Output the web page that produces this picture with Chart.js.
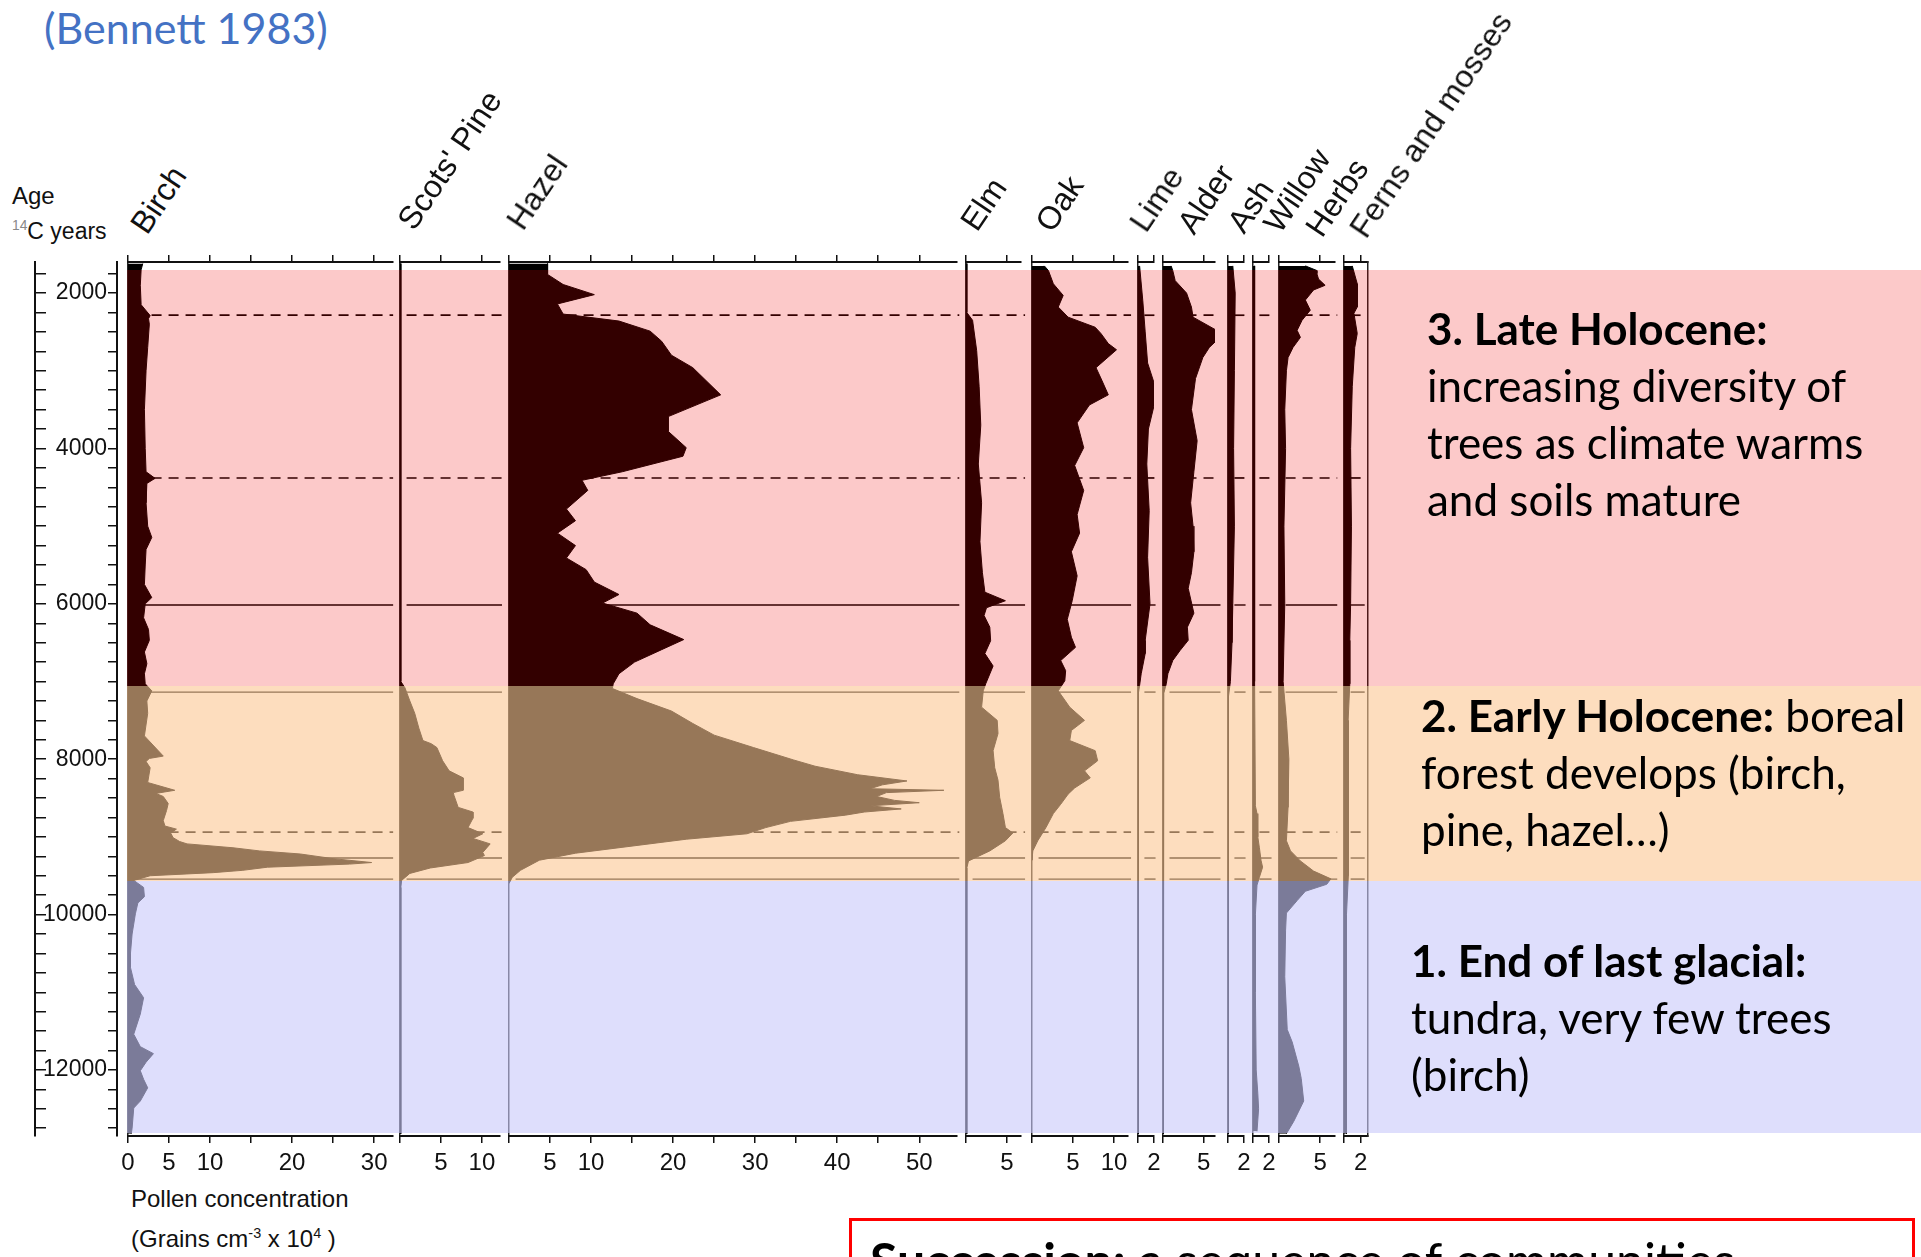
<!DOCTYPE html>
<html>
<head>
<meta charset="utf-8">
<script src="https://cdn.jsdelivr.net/npm/chart.js@4.4.1/dist/chart.umd.min.js"></script>
<style>
  html, body { margin: 0; padding: 0; background: #fff; }
  #page { position: relative; width: 1921px; height: 1257px; overflow: hidden; font-family: 'Liberation Sans', Arial, sans-serif; color: #111; }
  #page canvas { position: absolute; }
  .band { position: absolute; z-index: 5; }
  .abs { position: absolute; white-space: nowrap; }
  .taxon { position: absolute; white-space: nowrap; font-size: 32px; line-height: 32px; transform-origin: 0 27px; transform: rotate(-56deg); }
  .note { position: absolute; z-index: 10; font-family: Lato, sans-serif; font-size: 44px; line-height: 57px; color: #000; white-space: nowrap; }
  sup { font-size: 60%; line-height: 0; }
</style>
</head>
<body>
<div id="page">
  <div class="abs" style="left:44px; top:6px; font-family:Lato, sans-serif; font-size:43px; line-height:43px; color:#4472C4;">(Bennett 1983)</div>
  <div class="abs" style="left:12px; top:184px; font-size:24px; line-height:24px;">Age</div>
  <div class="abs" style="left:12px; top:220px; font-size:23px; line-height:23px;"><sup style="color:#888">14</sup>C years</div>
  <div class="abs" style="left:131px; top:1187px; font-size:24px; line-height:24px;">Pollen concentration</div>
  <div class="abs" style="left:131px; top:1227px; font-size:24px; line-height:24px;">(Grains cm<sup>-3</sup> x 10<sup>4</sup> )</div>

  <div class="note" style="left:1427px; top:300px;"><b>3. Late Holocene:</b><br>increasing diversity of<br>trees as climate warms<br>and soils mature</div>
  <div class="note" style="left:1421px; top:687px;"><b>2. Early Holocene:</b> boreal<br>forest develops (birch,<br>pine, hazel…)</div>
  <div class="note" style="left:1411px; top:932px;"><b>1. End of last glacial:</b><br>tundra, very few trees<br>(birch)</div>

  <div class="abs" style="left:849px; top:1218px; width:1060px; height:120px; border:3px solid #ff0000; z-index:10;"></div>
  <div class="abs" style="left:870px; top:1235px; font-family:Lato, sans-serif; font-size:50px; line-height:50px; color:#000; z-index:11;"><b>Succession:</b> a sequence of communities</div>
</div>
<script>
// Age axis (radiocarbon years BP)
const AGE_MIN = 1600;
const AGE_MAX = 12850;
const ageTickStep = 250;
const ageLabelStep = 2000;

// Taxa and their concentration axes (grains cm-3 x 10^4)
const taxa = ['Birch', "Scots' Pine", 'Hazel', 'Elm', 'Oak', 'Lime', 'Alder', 'Ash', 'Willow', 'Herbs', 'Ferns and mosses'];
const axisMax = [32.3, 12.2, 54.6, 6.7, 11.7, 2, 6.4, 2, 2, 6.8, 2.9];
const tickStep = [5, 5, 5, 5, 5, 2, 5, 2, 2, 5, 2];
const tickLabels = [[0, 5, 10, 20, 30], [5, 10], [5, 10, 20, 30, 40, 50], [5], [5, 10], [2], [5], [2], [2], [5], [2]];

const birchAge = [1620, 1700, 1900, 2150, 2290, 2330, 2400, 2700, 3000, 3500, 4000, 4300, 4385, 4450, 4700, 5000, 5145, 5300, 5500, 5750, 5920, 6000, 6180, 6330, 6470, 6620, 6770, 6900, 7030, 7120, 7250, 7410, 7700, 7960, 7990, 8030, 8110, 8300, 8400, 8440, 8480, 8570, 8660, 8790, 8860, 8900, 8950, 9010, 9060, 9090, 9140, 9180, 9220, 9280, 9330, 9350, 9390, 9430, 9460, 9500, 9560, 9650, 9770, 9850, 9990, 10250, 10500, 10680, 10900, 11070, 11280, 11540, 11700, 11790, 11900, 12010, 12120, 12230, 12400, 12490, 12750, 12820];
const birchVal = [1.8, 1.6, 1.5, 1.6, 2.7, 2.5, 2.6, 2.4, 2.2, 2.0, 2.1, 2.2, 3.3, 2.3, 2.2, 2.4, 2.9, 2.2, 2.1, 2.0, 2.9, 2.1, 1.9, 2.5, 2.6, 2.0, 2.3, 2.0, 2.1, 2.9, 2.3, 2.4, 2.0, 4.3, 2.6, 2.2, 2.7, 2.4, 5.7, 3.4, 4.3, 4.9, 4.7, 4.3, 4.5, 5.9, 5.2, 5.5, 6.3, 7.2, 12.8, 16, 21, 25, 29.7, 27, 17, 14, 10.4, 2.7, 0.7, 1.9, 2.0, 1.2, 0.9, 0.5, 0.3, 0.3, 0.8, 1.9, 1.5, 0.7, 1.5, 3.1, 2.2, 1.5, 1.9, 2.4, 1.5, 0.7, 0.5, 0.4];

const pineAge = [1620, 7000, 7080, 7250, 7410, 7600, 7760, 7800, 7850, 8020, 8150, 8240, 8400, 8430, 8470, 8620, 8680, 8760, 8880, 8960, 9020, 9090, 9200, 9240, 9330, 9400, 9470, 9560, 9650, 12820];
const pineVal = [0.1, 0.1, 0.6, 1.2, 1.8, 2.3, 2.8, 3.8, 4.5, 5.2, 6.0, 7.7, 7.7, 6.5, 6.6, 7.1, 8.9, 8.9, 8.3, 10.1, 8.9, 11.0, 10.1, 10.3, 8.3, 3.7, 1.2, 0.2, 0.1, 0.1];

const hazelAge = [1620, 1760, 1890, 2020, 2140, 2270, 2360, 2490, 2620, 2800, 2960, 3310, 3590, 3780, 3990, 4100, 4300, 4410, 4540, 4780, 4930, 5090, 5250, 5410, 5560, 5720, 5880, 5990, 6120, 6270, 6460, 6590, 6750, 6900, 7030, 7090, 7220, 7380, 7540, 7690, 7850, 8010, 8090, 8200, 8280, 8330, 8380, 8400, 8430, 8480, 8530, 8560, 8600, 8640, 8680, 8720, 8800, 8880, 8960, 9030, 9110, 9210, 9300, 9430, 9520, 9600];
const hazelVal = [4.7, 4.7, 6.6, 10.4, 5.9, 6.6, 13.4, 17.2, 18.6, 19.8, 22.4, 25.8, 19.4, 19.4, 21.6, 21.2, 13.8, 8.9, 9.6, 7.0, 8.1, 5.9, 8.1, 7.0, 9.4, 10.4, 13.4, 11.4, 15.6, 17.2, 21.3, 18.6, 15.3, 13.4, 12.7, 12.6, 15.6, 19.8, 22.4, 25, 29.8, 34.7, 37.3, 42.5, 48.5, 45.5, 44, 53, 46, 44.8, 47, 50, 44, 47.8, 43.3, 41, 34.3, 31.3, 29, 21.6, 15.6, 8.1, 3.7, 1.4, 0.4, 0];

const elmAge = [1620, 2250, 2350, 2740, 3200, 3700, 4200, 4700, 5200, 5600, 5850, 5960, 6050, 6150, 6300, 6475, 6640, 6800, 7030, 7120, 7330, 7500, 7670, 7890, 8110, 8270, 8490, 8700, 8880, 8950, 9050, 9180, 9310, 9400, 12820];
const elmVal = [0.1, 0.1, 0.8, 1.3, 1.6, 1.8, 1.5, 1.9, 1.7, 2.0, 2.3, 4.8, 2.5, 2.2, 2.9, 3.0, 2.3, 3.3, 2.4, 2.1, 1.9, 3.8, 3.9, 3.3, 3.5, 3.9, 4.1, 4.5, 4.8, 5.7, 4.8, 2.9, 0.3, 0.1, 0.1];

const oakAge = [1650, 1710, 1880, 2030, 2180, 2310, 2440, 2520, 2650, 2730, 2960, 3120, 3310, 3440, 3670, 3990, 4220, 4540, 4850, 5090, 5330, 5640, 5960, 6200, 6430, 6560, 6730, 6860, 6990, 7120, 7330, 7500, 7630, 7760, 7890, 8020, 8150, 8240, 8370, 8450, 8580, 8700, 8880, 9050, 9180, 9300];
const oakVal = [1.5, 2.0, 2.6, 3.8, 3.2, 4.4, 7.7, 8.4, 9.3, 10.3, 7.8, 8.5, 9.3, 7.0, 5.5, 6.3, 5.2, 6.3, 5.5, 5.8, 4.8, 5.5, 4.9, 4.3, 4.8, 5.3, 3.5, 4.1, 4.0, 3.2, 4.6, 6.4, 4.8, 4.6, 7.7, 8.0, 6.4, 7.1, 5.2, 4.4, 3.5, 2.6, 1.7, 0.7, 0.1, 0];

const limeAge = [1650, 2100, 2500, 2900, 3280, 3450, 3750, 4200, 4800, 5400, 6000, 6470, 6640, 6900, 7050, 7150, 12820];
const limeVal = [0.2, 0.6, 0.9, 1.2, 2.4, 2.0, 1.3, 1.1, 1.4, 1.2, 1.5, 0.9, 0.9, 0.4, 0.2, 0.05, 0.05];

const alderAge = [1650, 1710, 1840, 2000, 2180, 2310, 2480, 2570, 2700, 2830, 3100, 3500, 3900, 4300, 4700, 5000, 5330, 5600, 5800, 6120, 6300, 6470, 6600, 6730, 6900, 7030, 7150, 12820];
const alderVal = [1.0, 1.2, 1.5, 2.9, 3.5, 3.7, 6.6, 7.0, 5.7, 4.9, 4.0, 3.5, 4.2, 3.8, 3.4, 3.7, 3.8, 3.5, 3.1, 3.8, 3.0, 3.1, 2.1, 1.2, 0.6, 0.4, 0.1, 0.05];

const ashAge = [1650, 2000, 3000, 4000, 5000, 6000, 6500, 7000, 7200, 12820];
const ashVal = [0.6, 0.9, 0.8, 0.7, 0.8, 0.6, 0.5, 0.3, 0.05, 0.05];

const willowAge = [1650, 7000, 8600, 8700, 8800, 9000, 9140, 9300, 9390, 9520, 9620, 10000, 11000, 12000, 12300, 12500, 12790];
const willowVal = [0.2, 0.2, 0.3, 0.5, 0.6, 0.6, 0.8, 1.0, 1.2, 0.8, 0.5, 0.3, 0.3, 0.4, 0.6, 0.7, 0.5];

const herbsAge = [1650, 1710, 1750, 1820, 1900, 1960, 2090, 2220, 2350, 2480, 2570, 2700, 2830, 3000, 3500, 4000, 5000, 6000, 7000, 7500, 8000, 8620, 9050, 9180, 9310, 9440, 9540, 9610, 9700, 9820, 9980, 10200, 10800, 11480, 11640, 11950, 12110, 12400, 12660, 12820];
const herbsVal = [3.2, 4.6, 4.6, 4.8, 5.6, 4.2, 3.2, 3.8, 2.8, 2.2, 2.6, 1.7, 1.1, 0.9, 0.7, 0.8, 0.6, 0.7, 0.5, 0.9, 1.2, 1.1, 0.9, 1.4, 2.6, 4.2, 6.3, 5.8, 3.2, 2.2, 0.9, 0.8, 0.7, 1.0, 1.6, 2.4, 2.7, 3.0, 1.8, 0.9];

const fernsAge = [1650, 1880, 2180, 2260, 2520, 2700, 3200, 4000, 5000, 6000, 6470, 7030, 7500, 8000, 8500, 9000, 9500, 10000, 11000, 12000, 12820];
const fernsVal = [1.0, 1.6, 1.6, 1.2, 1.6, 1.3, 1.0, 0.8, 0.9, 0.8, 0.7, 0.7, 0.5, 0.6, 0.5, 0.5, 0.5, 0.3, 0.3, 0.3, 0.3];

const seriesAge = [birchAge, pineAge, hazelAge, elmAge, oakAge, limeAge, alderAge, ashAge, willowAge, herbsAge, fernsAge];
const seriesVal = [birchVal, pineVal, hazelVal, elmVal, oakVal, limeVal, alderVal, ashVal, willowVal, herbsVal, fernsVal];

// Zone boundaries drawn across the panels
const zoneLineAge = [2285, 4380, 6015, 7136, 8938, 9272, 9543];
const zoneLineDashed = [true, true, false, false, true, false, false];

// Coloured zones (late Holocene, early Holocene, end of last glacial)
const zoneBandAge = [1704, 7058, 9563, 12812];
const zoneBandColor = ['rgba(240,0,0,0.21)', 'rgba(252,199,146,0.6)', 'rgba(201,201,250,0.61)'];

// ---- layout ----
const INK = '#000';
const PX_PER_UNIT = 8.2;
const panelLeft = [128, 400, 509, 966, 1032, 1138, 1163, 1228, 1253, 1279, 1344];
const taxonLabelPos = [[147, 236], [414, 232], [523, 232], [977, 233], [1052, 234], [1146, 234], [1194, 236], [1244, 235], [1280, 235], [1322, 239], [1366, 240]];
const PLOT_TOP = 262, PLOT_BOTTOM = 1136;
const TOP_H = 12, BOTTOM_H = 50, PAD = 22;
const CANVAS_TOP = PLOT_TOP - TOP_H;
const CANVAS_H = TOP_H + (PLOT_BOTTOM - PLOT_TOP) + BOTTOM_H;

Chart.defaults.font.family = "'Liberation Sans', Arial, sans-serif";
Chart.defaults.color = '#111';

const page = document.getElementById('page');

function addCanvas(left, width) {
  const canvas = document.createElement('canvas');
  canvas.width = width;
  canvas.height = CANVAS_H;
  canvas.style.left = left + 'px';
  canvas.style.top = CANVAS_TOP + 'px';
  page.appendChild(canvas);
  return canvas;
}

const baseOptions = {
  responsive: false,
  animation: false,
  devicePixelRatio: 1,
  events: [],
  plugins: { legend: { display: false }, tooltip: { enabled: false } }
};

// ticks every 250 years, independent of the axis end points
function ageTicks(scale) {
  const ticks = [];
  for (let v = Math.ceil(AGE_MIN / ageTickStep) * ageTickStep; v <= AGE_MAX; v += ageTickStep) {
    ticks.push({ value: v });
  }
  scale.ticks = ticks;
}

function makePanel(i) {
  const plotW = Math.round(axisMax[i] * PX_PER_UNIT);
  const canvas = addCanvas(panelLeft[i] - PAD, plotW + 2 * PAD);
  const last = i === taxa.length - 1;
  const lineEnd = last ? axisMax[i] - 0.4 : (panelLeft[i + 1] - panelLeft[i] - 7) / PX_PER_UNIT;

  const points = seriesAge[i].map((a, k) => ({ x: seriesVal[i][k], y: a }));
  const datasets = [{
    data: points,
    fill: 'origin',
    backgroundColor: INK,
    borderColor: INK,
    borderWidth: 1,
    pointRadius: 0,
    tension: 0,
    order: 0
  }];
  zoneLineAge.forEach((age, k) => {
    datasets.push({
      data: [{ x: 0.8, y: age }, { x: lineEnd, y: age }],
      fill: false,
      borderColor: INK,
      borderWidth: zoneLineDashed[k] ? 1.7 : 1.4,
      borderDash: zoneLineDashed[k] ? [10, 7] : [],
      pointRadius: 0,
      clip: false,
      order: 1
    });
  });

  const xAxis = (position) => ({
    type: 'linear',
    position,
    min: 0,
    max: axisMax[i],
    ticks: {
      display: position === 'bottom',
      stepSize: tickStep[i],
      includeBounds: false,
      autoSkip: false,
      maxRotation: 0,
      padding: 6,
      font: { size: 24 },
      color: '#111',
      callback: v => tickLabels[i].includes(v) ? String(v) : ''
    },
    grid: {
      drawOnChartArea: position === 'bottom',
      color: ctx => (ctx.tick && ctx.tick.value === 0) ? '#222' : 'rgba(0,0,0,0)',
      tickColor: '#111',
      lineWidth: 1.5,
      tickLength: 7
    },
    border: { display: true, color: '#111', width: 2 },
    afterFit: s => {
      s.height = position === 'bottom' ? BOTTOM_H : TOP_H;
      s.paddingLeft = 0;
      s.paddingRight = 0;
    }
  });

  const scales = {
    y: { type: 'linear', min: AGE_MIN, max: AGE_MAX, reverse: true, display: false },
    x: xAxis('bottom'),
    xTop: xAxis('top')
  };
  if (last) {
    scales.yEdge = {
      type: 'linear', position: 'right', min: AGE_MIN, max: AGE_MAX, reverse: true,
      ticks: { display: false },
      grid: { drawOnChartArea: false, drawTicks: false },
      border: { display: true, color: '#222', width: 1.5 },
      afterFit: s => { s.width = 0; s.paddingTop = 0; s.paddingBottom = 0; }
    };
  }

  const chart = new Chart(canvas, {
    type: 'line',
    data: { datasets },
    options: Object.assign({}, baseOptions, {
      indexAxis: 'y',
      layout: { padding: { left: PAD, right: PAD, top: 0, bottom: 0 } },
      scales
    })
  });

  const label = document.createElement('div');
  label.className = 'taxon';
  label.textContent = taxa[i];
  label.style.left = taxonLabelPos[i][0] + 'px';
  label.style.top = (taxonLabelPos[i][1] - 27) + 'px';
  page.appendChild(label);
  return chart;
}

// Age ruler: labelled line with ticks pointing left
new Chart(addCanvas(0, 300), {
  type: 'scatter',
  data: { datasets: [] },
  options: Object.assign({}, baseOptions, {
    layout: { padding: { top: TOP_H, bottom: BOTTOM_H, left: 0, right: 0 } },
    scales: {
      x: { display: false, min: 0, max: 1 },
      y: {
        type: 'linear', position: 'left', min: AGE_MIN, max: AGE_MAX, reverse: true,
        afterBuildTicks: ageTicks,
        ticks: {
          autoSkip: false, padding: 1,
          font: { size: 23 }, color: '#111',
          callback: v => v % ageLabelStep === 0 ? String(v) : ''
        },
        grid: { drawOnChartArea: false, tickLength: 9, color: '#111', lineWidth: 1.5 },
        border: { display: true, color: '#111', width: 2 },
        afterFit: s => { s.width = 117; s.paddingTop = 0; s.paddingBottom = 0; }
      }
    }
  })
});

// Age ruler: outer line with ticks pointing right
new Chart(addCanvas(0, 120), {
  type: 'scatter',
  data: { datasets: [] },
  options: Object.assign({}, baseOptions, {
    layout: { padding: { top: TOP_H, bottom: BOTTOM_H, left: 0, right: 0 } },
    scales: {
      x: { display: false, min: 0, max: 1 },
      y: {
        type: 'linear', position: 'right', min: AGE_MIN, max: AGE_MAX, reverse: true,
        afterBuildTicks: ageTicks,
        ticks: { display: false, autoSkip: false },
        grid: { drawOnChartArea: false, tickLength: 11, color: '#111', lineWidth: 1.5 },
        border: { display: true, color: '#111', width: 2 },
        afterFit: s => { s.width = 85; s.paddingTop = 0; s.paddingBottom = 0; }
      }
    }
  })
});

const panels = taxa.map((t, i) => makePanel(i));

// Coloured zone bands, placed with the age scale of the first panel
const ageScale = panels[0].scales.y;
for (let k = 0; k < zoneBandColor.length; k++) {
  const y0 = CANVAS_TOP + ageScale.getPixelForValue(zoneBandAge[k]);
  const y1 = CANVAS_TOP + ageScale.getPixelForValue(zoneBandAge[k + 1]);
  const band = document.createElement('div');
  band.className = 'band';
  band.style.left = (panelLeft[0] - 1) + 'px';
  band.style.width = (1921 - panelLeft[0] + 1) + 'px';
  band.style.top = y0 + 'px';
  band.style.height = (y1 - y0) + 'px';
  band.style.background = zoneBandColor[k];
  page.appendChild(band);
}
</script>
</body>
</html>
